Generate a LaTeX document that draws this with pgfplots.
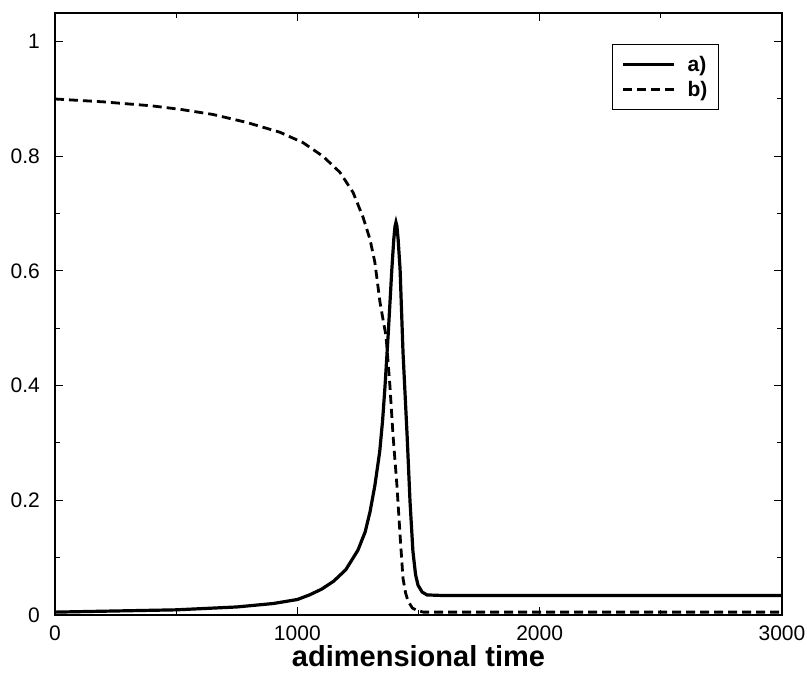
\documentclass[border=0pt]{standalone}
\usepackage{fontspec}
\setmainfont{Liberation Sans}
\usepackage{pgfplots}
\pgfplotsset{compat=1.18}
\begin{document}
\begin{tikzpicture}
\path[use as bounding box] (-55pt,-59pt) rectangle (752pt,615pt);
\begin{axis}[
  scale only axis, width=727pt, height=602pt,
  xmin=0, xmax=3000, ymin=0, ymax=1.05,
  xtick={0,1000,2000,3000}, ytick={0,0.2,0.4,0.6,0.8,1},
  minor x tick num=1, minor y tick num=1,
  tick align=inside, major tick length=8pt, minor tick length=5pt,
  axis line style={line width=1.2pt},
  every tick/.style={black, line width=1pt},
  tick label style={font=\fontsize{21}{25}\selectfont, inner sep=1pt},
  xticklabel style={yshift=-10pt},
  yticklabel style={xshift=-14pt},
  /pgf/number format/assume math mode=true,
  /pgf/number format/1000 sep={},
  scaled ticks=false,
  xlabel={adimensional time},
  xlabel style={font=\fontsize{29}{34}\selectfont\bfseries, inner sep=0pt, at={(axis description cs:0.5,0)}, anchor=base, yshift=-52pt},
  legend cell align=left,
  legend style={at={(rel axis cs:0.766,0.949)}, anchor=north west, draw=black, line width=1pt,
    font=\fontsize{21}{24}\selectfont\bfseries, row sep=4pt, inner xsep=9pt, inner ysep=10pt,
    /tikz/every odd column/.append style={column sep=10pt}},
  legend image code/.code={\draw[#1] (0pt,0pt) -- (51pt,0pt);},
]
\addplot[black, line width=3.2pt] coordinates {
(0,0.005) (250,0.007) (500,0.009) (750,0.014) (900,0.020) (1000,0.027)
(1050,0.035) (1100,0.045) (1150,0.059) (1200,0.079) (1250,0.113) (1280,0.145)
(1300,0.180) (1320,0.226) (1340,0.285) (1352,0.34) (1362,0.40) (1375,0.49)
(1390,0.603) (1398,0.655) (1403,0.678) (1407,0.685) (1411,0.678) (1416,0.655) (1424,0.603) (1436,0.459)
(1453,0.313) (1465,0.198) (1477,0.111) (1488,0.070) (1498,0.052) (1515,0.040)
(1535,0.035) (1600,0.034) (3000,0.034)
};
\addlegendentry{a)}
\addplot[black, line width=2.8pt, dash pattern=on 9pt off 5pt] coordinates {
(0,0.900) (200,0.895) (400,0.888) (516,0.882) (652,0.873) (792,0.859)
(928,0.842) (1023,0.824) (1106,0.800) (1176,0.772) (1230,0.737) (1271,0.694)
(1300,0.655) (1320,0.615) (1341,0.546) (1355,0.512) (1366,0.487) (1382,0.40)
(1395,0.313) (1411,0.226) (1424,0.139) (1436,0.064) (1447,0.038) (1457,0.024)
(1475,0.012) (1494,0.008) (1520,0.005) (3000,0.005)
};
\addlegendentry{b)}
\end{axis}
\end{tikzpicture}
\end{document}
